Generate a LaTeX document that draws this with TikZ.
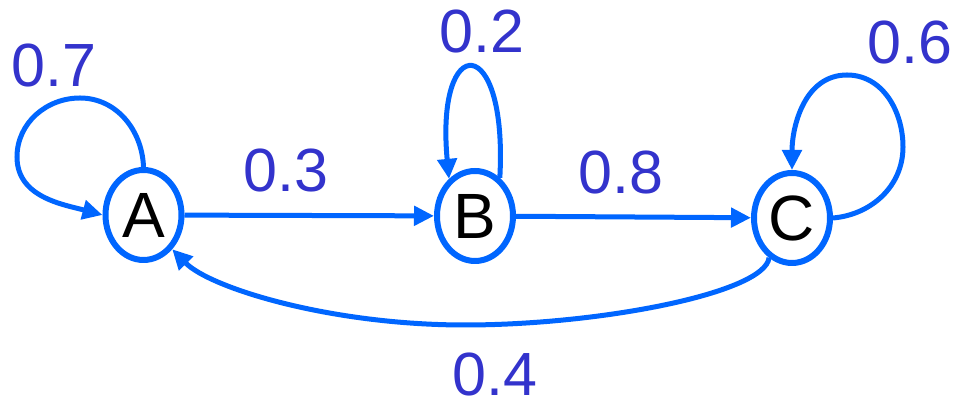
\documentclass[tikz,border=0pt]{standalone}
\usepackage{fontspec}
\setmainfont{Liberation Sans}
\usetikzlibrary{shapes.geometric,arrows.meta}
\definecolor{edgeblue}{HTML}{0066FF}
\definecolor{labelblue}{HTML}{3333CC}
\begin{document}
\begin{tikzpicture}[x=1pt,y=1pt,
  state/.style={ellipse,draw=edgeblue,line width=6pt,fill=white,minimum width=76pt,minimum height=90pt,inner sep=0pt,font=\fontsize{64}{70}\selectfont},
  edge/.style={draw=edgeblue,line width=5pt,-{Triangle[length=20pt,width=19pt]}},
  prob/.style={text=labelblue,inner sep=0pt,font=\fontsize{61}{70}\selectfont}]
\fill[white] (0,0) rectangle (954,403);
\useasboundingbox (0,0) rectangle (954,403);
\node[state] (A) at (143.5,188) {A};
\node[state] (B) at (475,187) {B};
\node[state] (C) at (792,185) {C};
% straight edges
\draw[edge] (A) -- (B);
\draw[edge] (B) -- (C);
% self loop A
\coordinate (a1) at (80,305);
\coordinate (a2) at (17,246);
\draw[edge] (A.north) to[out=92,in=0] (a1) to[out=180,in=90] (a2) to[out=-90,in=165] (A.west);
% self loop B
\draw[edge] (B.57) .. controls (508,372) and (435,372) .. (B.125);
% self loop C
\coordinate (c1) at (903,256);
\coordinate (c2) at (847,328);
\draw[edge] (C.east) to[out=5,in=-90] (c1) to[out=90,in=0] (c2) to[out=180,in=90] (C.north);
% C to A
\coordinate (b1) at (465,78);
\draw[edge] (C.-120) .. controls (765,110) and (600,78) .. (b1) .. controls (330,78) and (210,115) .. (A.-50);
% labels
\node[prob] (p7) at (54,337) {0.7};
\node[prob] (p2) at (482,371) {0.2};
\node[prob] (p6) at (910,360) {0.6};
\node[prob] (p3) at (286,232) {0.3};
\node[prob] (p8) at (621,230) {0.8};
\node[prob] (p4) at (495,28) {0.4};
\end{tikzpicture}
\end{document}
